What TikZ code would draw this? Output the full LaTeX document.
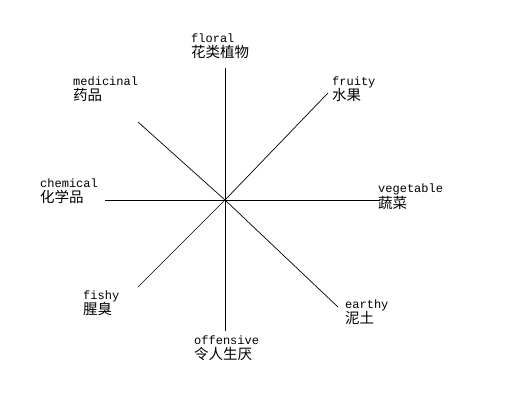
\documentclass[tikz,border=0pt]{standalone}
\usepackage{fontspec}
\setmonofont{Liberation Mono}
\newfontfamily\cjk{Noto Sans CJK SC}
\usepackage{tikz}
\usetikzlibrary{calc}

\begin{document}
\begin{tikzpicture}[x=1pt,y=-1pt,
    en/.style={anchor=base west,inner sep=0pt,font=\fontsize{12}{14}\ttfamily},
    cn/.style={anchor=base west,inner sep=0pt,font=\fontsize{14.5}{16}\cjk},
    spoke/.style={draw=black,line width=0.7pt}]
      \useasboundingbox (0,0) rectangle (525,401);
      \coordinate (c) at (225,200);
      \coordinate (flend) at (225,68);
      \coordinate (ofend) at (225,331);
      \coordinate (chend) at (105,200);
      \coordinate (veend) at (380,200);
      \coordinate (meend) at (138,122);
      \coordinate (frend) at (328,93);
      \coordinate (fiend) at (138,287);
      \coordinate (eaend) at (338,307);
      \draw [spoke] (c) -- (flend);
      \draw [spoke] (c) -- (ofend);
      \draw [spoke] (c) -- (chend);
      \draw [spoke] (c) -- (veend);
      \draw [spoke] (c) -- (meend);
      \draw [spoke] (c) -- (frend);
      \draw [spoke] (c) -- (fiend);
      \draw [spoke] (c) -- (eaend);
      \node [en] (fl) at (191,43) {floral};
      \node [cn] (flcn) at ($(fl.base west)+(0,15)$) {花类植物};
      \node [en] (me) at (73,86) {medicinal};
      \node [cn] (mecn) at ($(me.base west)+(0,15)$) {药品};
      \node [en] (fr) at (332,86) {fruity};
      \node [cn] (frcn) at ($(fr.base west)+(0,15)$) {水果};
      \node [en] (ch) at (40,188) {chemical};
      \node [cn] (chcn) at ($(ch.base west)+(0,15)$) {化学品};
      \node [en] (ve) at (378,193) {vegetable};
      \node [cn] (vecn) at ($(ve.base west)+(0,15)$) {蔬菜};
      \node [en] (fi) at (83,299) {fishy};
      \node [cn] (ficn) at ($(fi.base west)+(0,15)$) {腥臭};
      \node [en] (ea) at (345,308) {earthy};
      \node [cn] (eacn) at ($(ea.base west)+(0,15)$) {泥土};
      \node [en] (of) at (194,344) {offensive};
      \node [cn] (ofcn) at ($(of.base west)+(0,15)$) {令人生厌};
\end{tikzpicture}
\end{document}
